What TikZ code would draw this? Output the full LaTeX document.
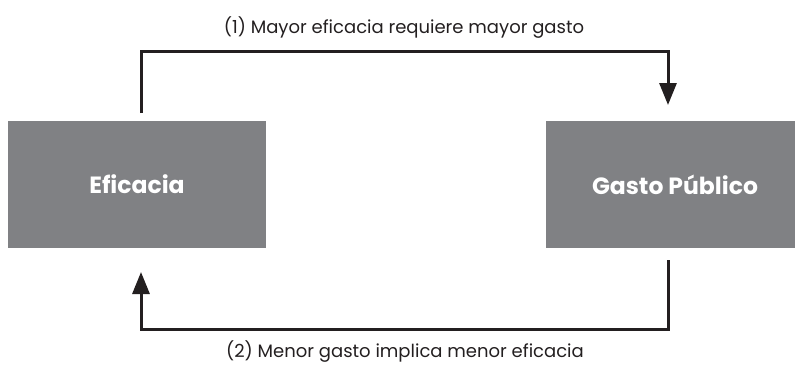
\documentclass[tikz,border=0pt]{standalone}
\usepackage{fontspec}
\setmainfont{Poppins}
\usetikzlibrary{arrows.meta}

\definecolor{boxgray}{HTML}{808184}
\definecolor{ink}{HTML}{231F20}

\tikzset{
  box/.style={fill=boxgray, minimum width=258pt, minimum height=127pt,
    text=white, font=\fontsize{23.5}{27}\selectfont\bfseries},
  link/.style={draw=ink, line width=3pt,
    -{Triangle[width=17pt,length=22pt]}},
  lbl/.style={text=ink, font=\fontsize{18}{21}\selectfont}
}

\begin{document}
\begin{tikzpicture}[x=1pt,y=-1pt]
   \useasboundingbox (0,0) rectangle (795,365);
   \begin{scope}
     \clip (0,0) rectangle (795,365);
     \node[box] (eff) at (137,184.5) {Eficacia};
     \node[box] (gasto) at (675,184.5) {Gasto Público};
   \end{scope}
   \coordinate (topl) at (141,113);
   \coordinate (topr) at (668,105);
   \coordinate (botr) at (668,260);
   \coordinate (botl) at (141,272);
   \draw[link] (topl) -- (topl |- 0,51) -| (topr);
   \draw[link] (botr) -- (botr |- 0,329) -| (botl);
   \node[lbl] (mayor) at (404,28) {(1) Mayor eficacia requiere mayor gasto};
   \node[lbl] (menor) at (405,352) {(2) Menor gasto implica menor eficacia};
\end{tikzpicture}
\end{document}
